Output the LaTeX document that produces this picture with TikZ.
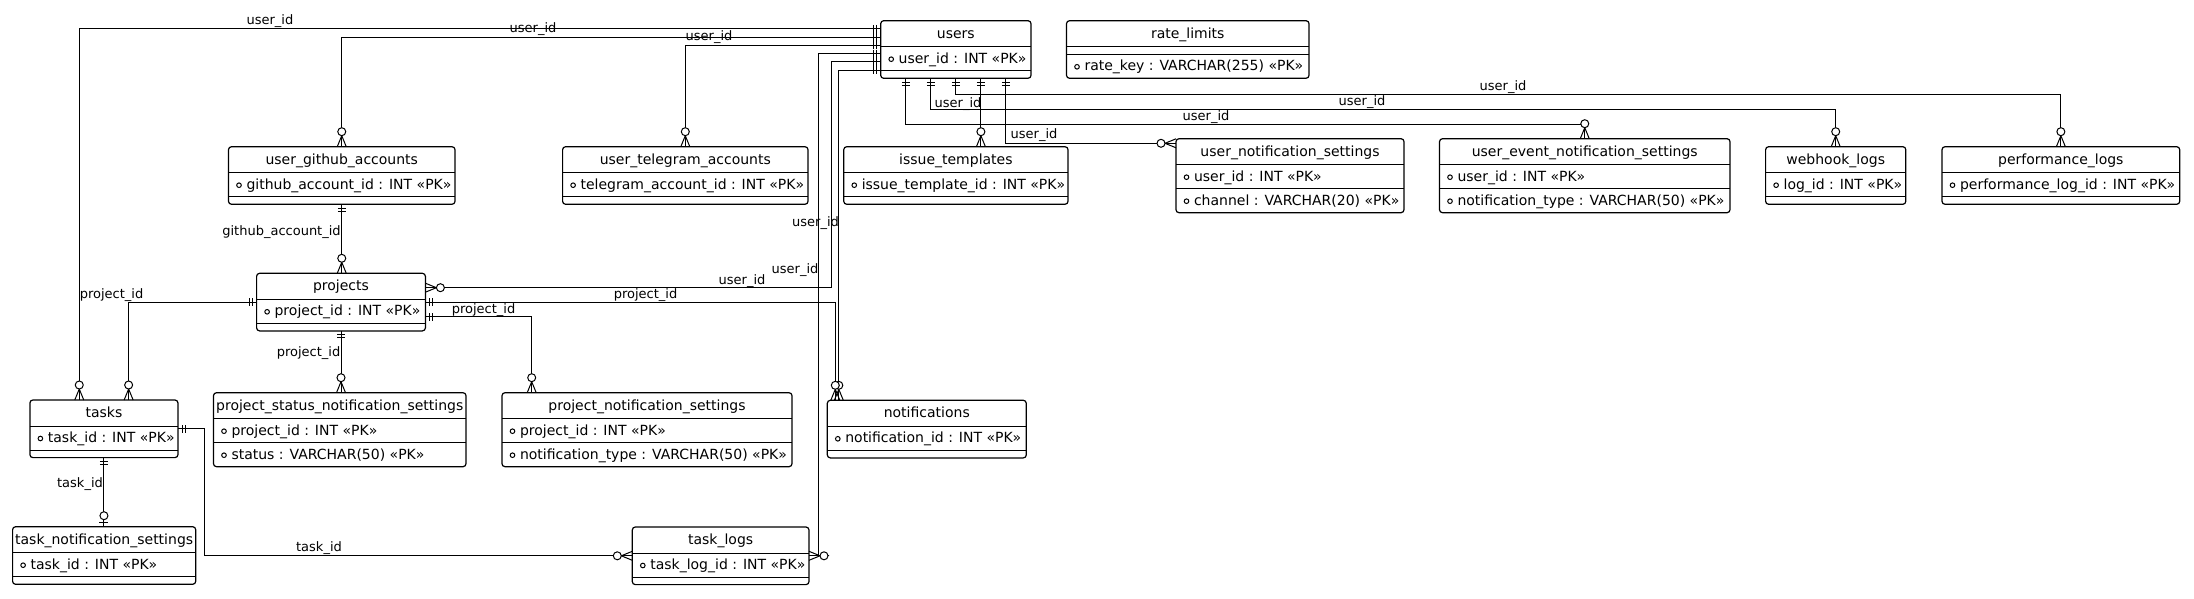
\documentclass[tikz,border=0pt]{standalone}
\usepackage{fontspec}
\setmainfont{DejaVu Sans}
\usetikzlibrary{calc,decorations.markings}
% table: name, x, y, width, title, key field, other field (sizes in px of the drawing)
\newcommand{\erent}[7]{%
  \ifx\relax#6\relax\def\erha{7.6}\else\def\erha{24}\fi
  \ifx\relax#7\relax\def\erhb{7.6}\else\def\erhb{24}\fi
  \node[entbox,minimum width=#4*0.5pt,minimum height=(26+\erha+\erhb)*0.5pt] (#1) at (#2,#3) {};
  \node[enttitle] (#1-t) at ($(#1.north west)+(#4/2,17.6)$) {#5};
  \draw ($(#1.north west)+(0,26)$) -- ++(#4,0);
  \draw ($(#1.north west)+(0,26+\erha)$) -- ++(#4,0);
  \ifx\relax#6\relax\else
    \draw ($(#1.north west)+(10.5,38.5)$) circle (1.15pt);
    \node[entfield] (#1-a) at ($(#1.north west)+(17.5,42.6)$) {#6};\fi
  \ifx\relax#7\relax\else
    \draw ($(#1.north west)+(10.5,38.5+\erha)$) circle (1.15pt);
    \node[entfield] (#1-b) at ($(#1.north west)+(17.5,42.6+\erha)$) {#7};\fi
}

\begin{document}
\begin{tikzpicture}[x=0.5pt,y=-0.5pt,line width=0.5pt,
  entbox/.style={draw,line width=0.6pt,rounded corners=1.5pt,anchor=north west,inner sep=0pt,outer sep=0pt},
  enttitle/.style={font=\fontsize{7}{8.4}\selectfont,inner sep=0pt,anchor=base},
  entfield/.style={font=\fontsize{7}{8.4}\selectfont,inner sep=0pt,anchor=base west},
  lbl/.style={font=\fontsize{6.5}{7.8}\selectfont,inner sep=0pt},
  onestart/.style={postaction={decorate,decoration={markings,
    mark=at position 2pt with {\draw (0,-2pt) -- (0,2pt);},
    mark=at position 3.5pt with {\draw (0,-2pt) -- (0,2pt);}}}},
  zmanyend/.style={postaction={decorate,decoration={markings,
    mark=at position -5.5pt with {\draw (5.5pt,2.25pt) -- (0,0) -- (5.5pt,-2.25pt);
      \draw[fill=white] (-2pt,0) circle (2pt);}}}},
  zoneend/.style={postaction={decorate,decoration={markings,
    mark=at position -5.5pt with {\draw[fill=white] (0,0) circle (2pt);},
    mark=at position -2.25pt with {\draw (0,-2.25pt) -- (0,2.25pt);}}}}]
  \fill[white] (0,0) rectangle (2194,599);
  \useasboundingbox (0,0) rectangle (2194,599);

  % tables
  \erent{users}{880.7}{20.7}{150.3}{users}{user\_id : INT «PK»}{}
  \erent{ratelim}{1066.5}{20.7}{242.5}{rate\_limits}{}{rate\_key : VARCHAR(255) «PK»}
  \erent{issuetpl}{843.75}{146.7}{224.25}{issue\_templates}{issue\_template\_id : INT «PK»}{}
  \erent{usrnotif}{1176}{138.7}{228}{user\_notification\_settings}{user\_id : INT «PK»}{channel : VARCHAR(20) «PK»}
  \erent{usrevent}{1439.5}{138.7}{290.5}{user\_event\_notification\_settings}{user\_id : INT «PK»}{notification\_type : VARCHAR(50) «PK»}
  \erent{webhook}{1765.6}{146.7}{140.2}{webhook\_logs}{log\_id : INT «PK»}{}
  \erent{perflog}{1942}{146.7}{237.7}{performance\_logs}{performance\_log\_id : INT «PK»}{}
  \erent{ghacc}{228.5}{146.7}{226.5}{user\_github\_accounts}{github\_account\_id : INT «PK»}{}
  \erent{tgacc}{562.6}{146.7}{245.4}{user\_telegram\_accounts}{telegram\_account\_id : INT «PK»}{}
  \erent{projects}{256.6}{273.3}{168.8}{projects}{project\_id : INT «PK»}{}
  \erent{tasks}{29.9}{400}{148.1}{tasks}{task\_id : INT «PK»}{}
  \erent{prjstat}{213.5}{392.7}{252.5}{project\_status\_notification\_settings}{project\_id : INT «PK»}{status : VARCHAR(50) «PK»}
  \erent{prjnotif}{502}{392.7}{290}{project\_notification\_settings}{project\_id : INT «PK»}{notification\_type : VARCHAR(50) «PK»}
  \erent{notifs}{827.3}{400.3}{199}{notifications}{notification\_id : INT «PK»}{}
  \erent{tasknotif}{12.6}{526.7}{183.1}{task\_notification\_settings}{task\_id : INT «PK»}{}
  \erent{tasklog}{632.3}{527}{176.7}{task\_logs}{task\_log\_id : INT «PK»}{}

  % relations from users
  \draw[onestart,zmanyend] ($(users.north west)!1/7!(users.south west)$) -| ($(tasks.north west)!1/3!(tasks.north east)$);
  \draw[onestart,zmanyend] ($(users.north west)!2/7!(users.south west)$) -| (ghacc.north);
  \draw[onestart,zmanyend] ($(users.north west)!3/7!(users.south west)$) -| (tgacc.north);
  \draw[onestart,zmanyend] ($(users.north west)!4/7!(users.south west)$) -- ++(-62,0) |- ([xshift=10pt]tasklog.east) -- (tasklog.east);
  \draw[onestart,zmanyend] ($(users.north west)!5/7!(users.south west)$) -- ++(-49.7,0) |- ($(projects.north east)!1/4!(projects.south east)$);
  \draw[onestart,zmanyend] ($(users.north west)!6/7!(users.south west)$) -| ([xshift=5.75pt]notifs.north west);
  \draw[onestart,zmanyend] ($(users.south west)!1/6!(users.south east)$) -- ++(0,46) -| (usrevent.north);
  \draw[onestart,zmanyend] ($(users.south west)!2/6!(users.south east)$) -- ++(0,31) -| (webhook.north);
  \draw[onestart,zmanyend] ($(users.south west)!3/6!(users.south east)$) -- ++(0,16) -| (perflog.north);
  \draw[onestart,zmanyend] ($(users.south west)!4/6!(users.south east)$) coordinate (ub4) -- (ub4 |- issuetpl.north);
  \draw[onestart,zmanyend] ($(users.south west)!5/6!(users.south east)$) |- ([yshift=-2.3pt]usrnotif.north west);

  % relations from projects and tasks
  \draw[onestart,zmanyend] (ghacc.south) -- (ghacc.south |- projects.north);
  \draw[onestart,zmanyend] (projects.west) -| ($(tasks.north west)!2/3!(tasks.north east)$);
  \draw[onestart,zmanyend] (projects.east) -| ([xshift=4pt]notifs.north west);
  \draw[onestart,zmanyend] ($(projects.north east)!3/4!(projects.south east)$) -| ([xshift=14.85pt]prjnotif.north west);
  \draw[onestart,zmanyend] (projects.south) -- (projects.south |- prjstat.north);
  \draw[onestart,zoneend] (tasks.south) -- (tasks.south |- tasknotif.north);
  \draw[onestart,zmanyend] (tasks.east) -- ++(26,0) |- (tasklog.west);

  % labels
  \node[lbl] (lu1) at (270,21) {user\_id};
  \node[lbl] (lu2) at (533,29) {user\_id};
  \node[lbl] (lu3) at (709,37) {user\_id};
  \node[lbl] (lu4) at (815.5,223) {user\_id};
  \node[lbl] (lu5) at (795,270) {user\_id};
  \node[lbl] (lu6) at (742,281) {user\_id};
  \node[lbl] (lu7) at (958,104) {user\_id};
  \node[lbl] (lu8) at (1206,117) {user\_id};
  \node[lbl] (lu9) at (1362,102) {user\_id};
  \node[lbl] (lu10) at (1503,87) {user\_id};
  \node[lbl] (lu11) at (1034,135) {user\_id};
  \node[lbl] (lg) at (281.5,231.7) {github\_account\_id};
  \node[lbl] (lp1) at (111.5,295) {project\_id};
  \node[lbl] (lp2) at (645.5,295) {project\_id};
  \node[lbl] (lp3) at (483.5,310) {project\_id};
  \node[lbl] (lp4) at (308.5,353) {project\_id};
  \node[lbl] (lt1) at (80,484) {task\_id};
  \node[lbl] (lt2) at (319,548) {task\_id};
\end{tikzpicture}
\end{document}
